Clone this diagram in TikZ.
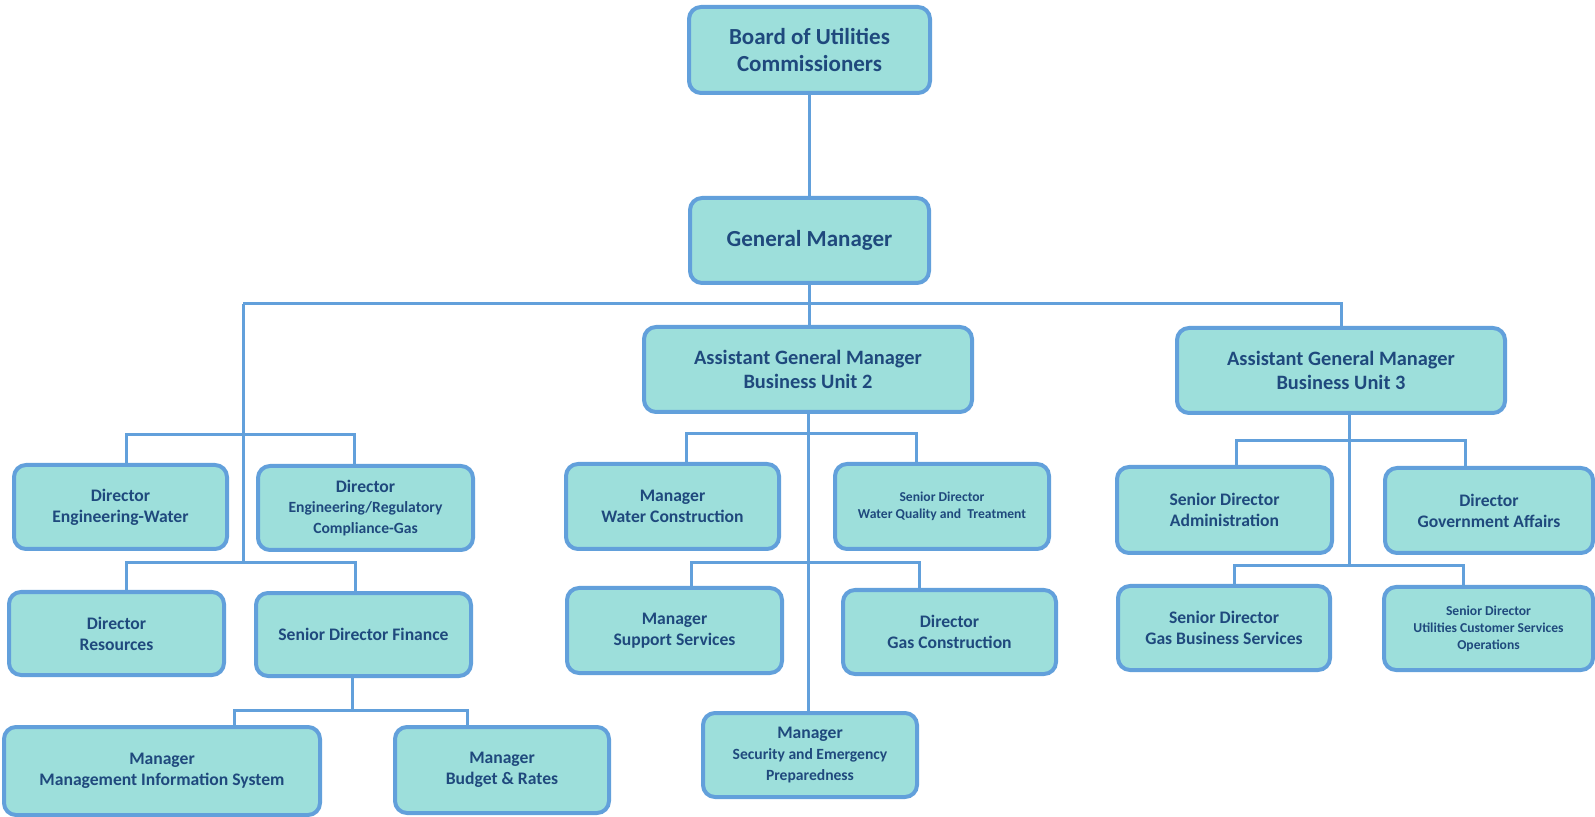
\documentclass[tikz,border=0pt]{standalone}
\usepackage{fontspec}
\setmainfont{Carlito}
\usepackage{tikz}
\usetikzlibrary{positioning, calc}
\definecolor{boxfill}{HTML}{9DDFDB}
\definecolor{boxline}{HTML}{62A0DB}
\definecolor{boxtext}{HTML}{1F497D}
\newcommand{\bigsz}{\fontsize{11.5}{13.8}\selectfont}
\newcommand{\agmsz}{\fontsize{10.2}{12.4}\selectfont}
\newcommand{\stdsz}{\fontsize{8.8}{10.4}\selectfont}
\newcommand{\midsz}{\fontsize{7.8}{9.4}\selectfont}
\newcommand{\smsz}{\fontsize{6.8}{8.4}\selectfont}

\begin{document}
\begin{tikzpicture}[x=0.5pt, y=-0.5pt,
  unit/.style={draw=boxline, fill=boxfill, line width=2pt, rounded corners=6pt, align=center, text=boxtext, font=\bfseries\stdsz, inner sep=2pt, minimum width=107pt, minimum height=42pt},
  link/.style={draw=boxline, line width=1.5pt}]
  \useasboundingbox (0,0) rectangle (1595,817);
  % top of the chart
  \node[unit, font=\bfseries\bigsz, minimum width=120.5pt, minimum height=43pt] (board) at (809.5,50) {Board of Utilities\\Commissioners};
  \node[unit, font=\bfseries\bigsz, minimum width=119.5pt, minimum height=42.5pt] (gm) at (809.5,240.5) {General Manager};
  \node[unit, font=\bfseries\agmsz, minimum width=164pt, minimum height=42.5pt] (agm2) at (808,369.5) {Assistant General Manager\\Business Unit 2};
  \node[unit, font=\bfseries\agmsz, minimum width=164pt, minimum height=42.5pt] (agm3) at (1341,370.5) {Assistant General Manager\\Business Unit 3};
  % left branch
  \node[unit, minimum width=106.5pt] (ew) at (120.5,507) {Director\\Engineering-Water};
  \node[unit, minimum width=107.5pt] (er) at (365.5,508) {Director\\\midsz Engineering/Regulatory\\\midsz Compliance-Gas};
  \node[unit, minimum width=107.5pt, minimum height=41.5pt] (res) at (116.5,633.5) {Director\\Resources};
  \node[unit, minimum width=107.5pt, minimum height=41.5pt] (fin) at (363.5,634.5) {Senior Director Finance};
  \node[unit, minimum width=158pt, minimum height=44pt] (mis) at (162,771) {Manager\\Management Information System};
  \node[unit, minimum width=107pt, minimum height=43pt] (bud) at (502,770) {Manager\\Budget \& Rates};
  % business unit 2
  \node[unit, minimum width=106.5pt, minimum height=42.5pt] (wc) at (672.5,506.5) {Manager\\Water Construction};
  \node[unit, font=\bfseries\smsz, minimum height=42.5pt] (wq) at (942,506.5) {Senior Director\\Water Quality and~ Treatment};
  \node[unit, minimum width=107.5pt, minimum height=42.5pt] (ss) at (674.5,630.5) {Manager\\Support Services};
  \node[unit, minimum width=106.5pt] (gc) at (949.5,632) {Director\\Gas Construction};
  \node[unit] (sec) at (810,755) {Manager\\\midsz Security and Emergency\\\midsz Preparedness};
  % business unit 3
  \node[unit, minimum width=107.5pt, minimum height=43pt] (adm) at (1224.5,510) {Senior Director\\Administration};
  \node[unit, minimum width=104pt, minimum height=42.5pt] (gov) at (1489,510.5) {Director\\Government Affairs};
  \node[unit, minimum width=106pt] (gbs) at (1224,628) {Senior Director\\Gas Business Services};
  \node[unit, font=\bfseries\smsz, minimum width=104.5pt, minimum height=41.5pt] (ucs) at (1488.5,628.5) {Senior Director\\Utilities Customer Services\\Operations};

  \coordinate (lbus) at (243,304);
  \coordinate (lhub1) at (243,435);
  \coordinate (lhub2) at (243,563);
  \coordinate (fhub) at (352,710);
  \coordinate (mhub1) at (808,434);
  \coordinate (mhub2) at (808,563);
  \coordinate (rhub1) at (1349,441);
  \coordinate (rhub2) at (1349,566);

  \path[link]
    (board.south) edge (board.south |- gm.north)
    (gm.south) edge (gm.south |- agm2.north)
    (lbus) edge (lhub2)
    ([xshift=-5.75pt]fin.south) edge (fhub)
    (agm2.south) edge (agm2.south |- sec.north)
    ([xshift=4pt]agm3.south) edge (rhub2);
  \draw[link] (lbus) -- (agm3.north |- lbus) -- (agm3.north);
  \draw[link] ([xshift=2.75pt]ew.north) |- (lhub1) -| ([xshift=-5.75pt]er.north);
  \draw[link] ([xshift=4.75pt]res.north) |- (lhub2) -| ([xshift=-4.25pt]fin.north);
  \draw[link] ([xshift=36pt]mis.north) |- (fhub) -| ([xshift=-17.5pt]bud.north);
  \draw[link] ([xshift=6.75pt]wc.north) |- (mhub1) -| ([xshift=-13pt]wq.north);
  \draw[link] ([xshift=8.25pt]ss.north) |- (mhub2) -| ([xshift=-15.25pt]gc.north);
  \draw[link] ([xshift=5.75pt]adm.north) |- (rhub1) -| ([xshift=-12pt]gov.north);
  \draw[link] ([xshift=5pt]gbs.north) |- (rhub2) -| ([xshift=-12.75pt]ucs.north);
\end{tikzpicture}
\end{document}
